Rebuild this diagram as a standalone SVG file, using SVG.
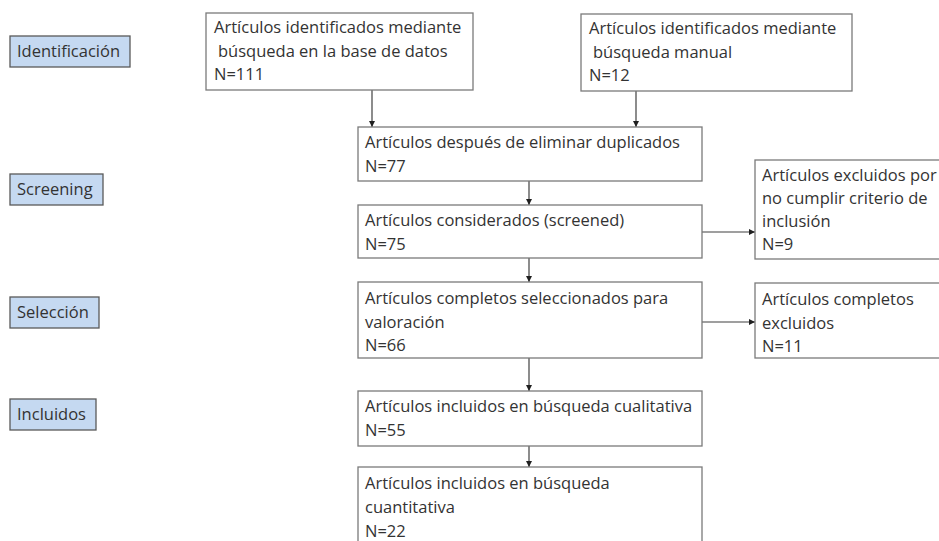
<svg xmlns="http://www.w3.org/2000/svg" width="939" height="541" viewBox="0 0 939 541">
<style>
.bg{fill:#ffffff}
.box{fill:#ffffff;stroke:#7a7a7a;stroke-width:1.3}
.lab{fill:#c5d9f1;stroke:#595959;stroke-width:1.3}
.t{font-family:"Open Sans","Noto Sans","Liberation Sans",sans-serif;font-size:16.5px;fill:#333333}
.c{stroke:#404040;stroke-width:1.2;fill:none}
</style>
<defs>
<marker id="ah" markerWidth="8" markerHeight="8" refX="6" refY="3" orient="auto" markerUnits="userSpaceOnUse">
<path d="M0,0 L6,3 L0,6 Z" fill="#202020"/>
</marker>
</defs>
<rect class="bg" x="0" y="0" width="939" height="541"/>

<g id="lab-identificacion"><rect class="lab" x="10" y="36" width="120" height="31"/><text class="t" x="17" y="57">Identificación</text></g>
<g id="lab-screening"><rect class="lab" x="10" y="174" width="93" height="31"/><text class="t" x="17" y="195">Screening</text></g>
<g id="lab-seleccion"><rect class="lab" x="10" y="297" width="89" height="31"/><text class="t" x="17" y="318">Selección</text></g>
<g id="lab-incluidos"><rect class="lab" x="10" y="399" width="86" height="31"/><text class="t" x="17" y="420">Incluidos</text></g>

<g id="connectors">
<line class="c" x1="372" y1="90" x2="372" y2="127" marker-end="url(#ah)"/>
<line class="c" x1="636" y1="91" x2="636" y2="127" marker-end="url(#ah)"/>
<line class="c" x1="529" y1="181" x2="529" y2="205" marker-end="url(#ah)"/>
<line class="c" x1="529" y1="258" x2="529" y2="282" marker-end="url(#ah)"/>
<line class="c" x1="529" y1="358" x2="529" y2="391" marker-end="url(#ah)"/>
<line class="c" x1="529" y1="446" x2="529" y2="467" marker-end="url(#ah)"/>
<line class="c" x1="702" y1="232" x2="755" y2="232" marker-end="url(#ah)"/>
<line class="c" x1="702" y1="322" x2="755" y2="322" marker-end="url(#ah)"/>
</g>

<g id="n-db"><rect class="box" x="206" y="13" width="267" height="77"/>
<text class="t" x="214" y="33">Artículos identificados mediante</text>
<text class="t" x="218" y="57">búsqueda en la base de datos</text>
<text class="t" x="214" y="80">N=111</text></g>

<g id="n-manual"><rect class="box" x="581" y="14" width="271" height="77"/>
<text class="t" x="589" y="34">Artículos identificados mediante</text>
<text class="t" x="593" y="58">búsqueda manual</text>
<text class="t" x="589" y="81">N=12</text></g>

<g id="n-dup"><rect class="box" x="358" y="127" width="344" height="54"/>
<text class="t" x="365" y="148">Artículos después de eliminar duplicados</text>
<text class="t" x="365" y="172">N=77</text></g>

<g id="n-screened"><rect class="box" x="358" y="205" width="344" height="53"/>
<text class="t" x="365" y="226">Artículos considerados (screened)</text>
<text class="t" x="365" y="250">N=75</text></g>

<g id="n-excl1"><rect class="box" x="755" y="160" width="200" height="99"/>
<text class="t" x="762" y="181">Artículos excluidos por</text>
<text class="t" x="762" y="204">no cumplir criterio de</text>
<text class="t" x="762" y="227">inclusión</text>
<text class="t" x="762" y="250">N=9</text></g>

<g id="n-full"><rect class="box" x="358" y="282" width="344" height="76"/>
<text class="t" x="365" y="304">Artículos completos seleccionados para</text>
<text class="t" x="365" y="328">valoración</text>
<text class="t" x="365" y="351">N=66</text></g>

<g id="n-excl2"><rect class="box" x="755" y="283" width="200" height="75"/>
<text class="t" x="762" y="305">Artículos completos</text>
<text class="t" x="762" y="329">excluidos</text>
<text class="t" x="762" y="352">N=11</text></g>

<g id="n-qual"><rect class="box" x="358" y="391" width="344" height="55"/>
<text class="t" x="365" y="412">Artículos incluidos en búsqueda cualitativa</text>
<text class="t" x="365" y="436">N=55</text></g>

<g id="n-quant"><rect class="box" x="358" y="467" width="344" height="100"/>
<text class="t" x="365" y="489">Artículos incluidos en búsqueda</text>
<text class="t" x="365" y="513">cuantitativa</text>
<text class="t" x="365" y="537">N=22</text></g>
</svg>
